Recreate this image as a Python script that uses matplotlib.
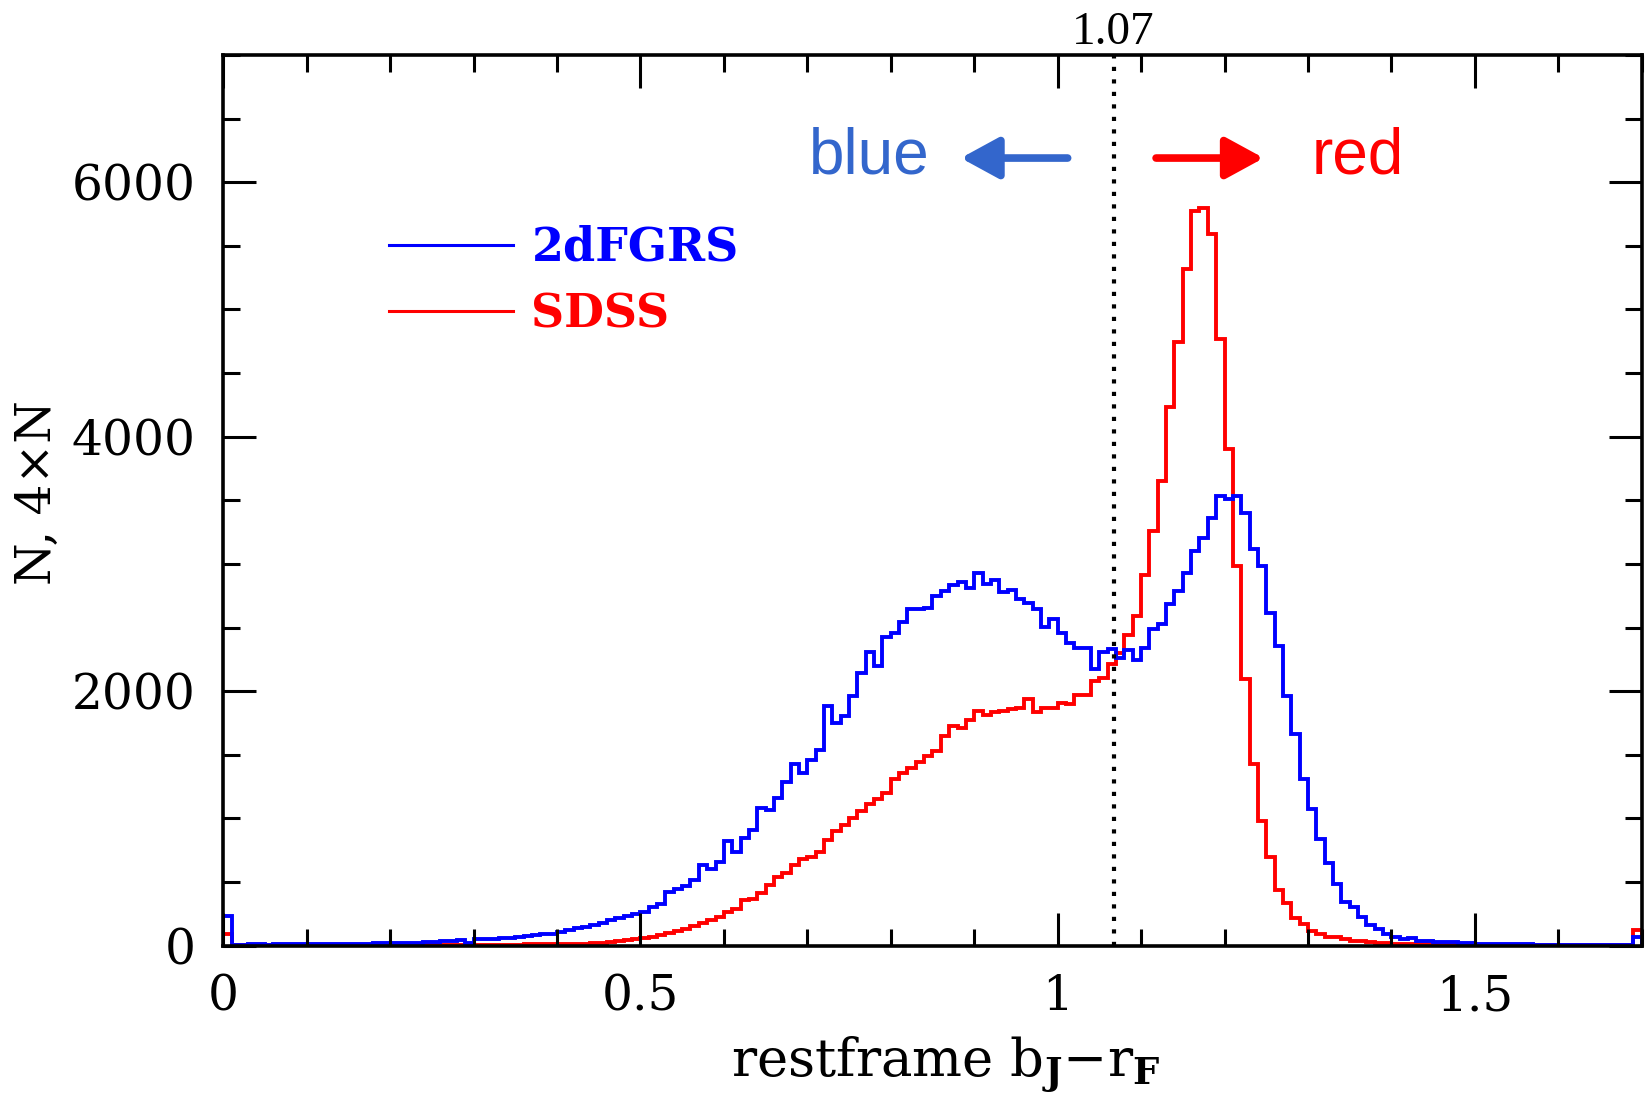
import numpy as np
import matplotlib
matplotlib.use('Agg')
import matplotlib.pyplot as plt
from matplotlib.ticker import MultipleLocator

plt.rcParams['mathtext.fontset'] = 'dejavuserif'

# histogram bins: 0.00 .. 1.70 in steps of 0.01
bin_edges = np.round(np.arange(0, 171) * 0.01, 2)

# 2dFGRS counts (4 x N), one value per bin
n_2df = [237, 8, 9, 10, 10, 9, 10, 11, 10, 10,
         11, 12, 12, 14, 15, 15, 16, 17, 18, 18,
         19, 20, 21, 24, 27, 32, 36, 40, 48, 24,
         52, 54, 56, 60, 64, 72, 76, 82, 88, 95,
         108, 122, 135, 148, 165, 180, 204, 219, 237, 252,
         268, 305, 327, 425, 444, 465, 517, 635, 604, 661,
         819, 740, 845, 911, 1081, 1063, 1160, 1283, 1428, 1357,
         1457, 1541, 1882, 1751, 1803, 1961, 2144, 2307, 2197, 2428,
         2459, 2543, 2648, 2648, 2652, 2748, 2787, 2837, 2861, 2814,
         2927, 2840, 2874, 2780, 2795, 2722, 2696, 2643, 2507, 2564,
         2454, 2381, 2341, 2336, 2176, 2307, 2328, 2263, 2323, 2242,
         2342, 2486, 2525, 2683, 2788, 2932, 3102, 3200, 3358, 3531,
         3510, 3535, 3397, 3116, 2984, 2617, 2354, 1960, 1663, 1311,
         1074, 837, 653, 482, 347, 303, 229, 166, 132, 92,
         71, 53, 60, 38, 34, 32, 27, 25, 20, 18,
         17, 16, 14, 13, 12, 11, 10, 9, 9, 8,
         8, 7, 7, 6, 6, 6, 5, 5, 5, 70]

# SDSS counts (N)
n_sdss = [95, 2, 2, 2, 2, 3, 3, 3, 3, 3,
          3, 3, 3, 4, 4, 4, 4, 4, 4, 5,
          5, 5, 5, 5, 6, 6, 6, 6, 7, 7,
          7, 8, 8, 9, 9, 9, 10, 10, 11, 11,
          12, 12, 14, 17, 20, 24, 30, 37, 44, 52,
          63, 71, 84, 97, 115, 131, 155, 176, 202, 228,
          268, 286, 360, 368, 412, 478, 543, 570, 635, 680,
          700, 740, 830, 898, 950, 1005, 1060, 1110, 1150, 1200,
          1310, 1355, 1400, 1440, 1490, 1530, 1650, 1730, 1710, 1770,
          1845, 1810, 1840, 1845, 1860, 1865, 1940, 1835, 1865, 1870,
          1905, 1900, 1970, 1970, 2080, 2105, 2210, 2302, 2439, 2591,
          2911, 3260, 3654, 4231, 4748, 5320, 5772, 5801, 5596, 4764,
          3903, 2984, 2092, 1426, 979, 697, 439, 337, 216, 171,
          118, 92, 71, 65, 53, 40, 38, 26, 24, 18,
          16, 14, 12, 11, 10, 9, 8, 7, 7, 6,
          6, 5, 5, 4, 4, 4, 4, 3, 3, 3,
          3, 3, 3, 2, 2, 2, 2, 2, 2, 120]

cut = 1.067
cut_label = '1.07'

fig = plt.figure(figsize=(16.45, 10.93), dpi=100)
ax = fig.add_axes([0.1357, 0.1348, 0.8623, 0.8149])

ax.stairs(n_sdss, bin_edges, color='#ff0000', lw=2.8, label='SDSS')
ax.stairs(n_2df, bin_edges, color='#0000ff', lw=2.8, label='2dFGRS')
ax.axvline(cut, color='black', lw=3.0, linestyle=(0, (1, 2.0)))

ax.set_xlim(0, 1.7)
ax.set_ylim(0, 7000)
ax.xaxis.set_major_locator(MultipleLocator(0.5))
ax.xaxis.set_minor_locator(MultipleLocator(0.1))
ax.yaxis.set_major_locator(MultipleLocator(2000))
ax.yaxis.set_minor_locator(MultipleLocator(500))
ax.xaxis.set_major_formatter(plt.FuncFormatter(lambda v, p: '%g' % v))
ax.tick_params(which='both', direction='in', top=True, right=True, width=2.2)
ax.tick_params(which='major', length=24, pad=20, labelsize=35)
ax.tick_params(which='minor', length=12)
for lab in ax.get_xticklabels() + ax.get_yticklabels():
    lab.set_family('DejaVu Serif')
for sp in ax.spines.values():
    sp.set_linewidth(2.6)

# legend
handles, labels = ax.get_legend_handles_labels()
leg = ax.legend(handles[::-1], labels[::-1], loc='upper left', bbox_to_anchor=(0.101, 0.835),
                frameon=False, borderpad=0, handlelength=2.7, handletextpad=0.4,
                labelspacing=0.45, prop={'family': 'DejaVu Serif', 'weight': 'bold', 'size': 33})
for txt, c in zip(leg.get_texts(), ['#0000ff', '#ff0000']):
    txt.set_color(c)
for ln in leg.get_lines():
    ln.set_linewidth(2.2)

# blue / red annotations
arrow_style = '-|>,head_length=0.55,head_width=0.3'
ax.annotate('', xy=(0.884, 6190), xytext=(1.012, 6190),
            arrowprops=dict(arrowstyle=arrow_style, color='#3366cc', lw=5.5,
                            mutation_scale=42, shrinkA=0, shrinkB=0))
ax.annotate('', xy=(1.247, 6190), xytext=(1.118, 6190),
            arrowprops=dict(arrowstyle=arrow_style, color='#ff0000', lw=5.5,
                            mutation_scale=42, shrinkA=0, shrinkB=0))
ax.text(0.774, 6070, 'blue', color='#3366cc', fontsize=46, family='Liberation Sans',
        ha='center', va='baseline')
ax.text(1.36, 6070, 'red', color='#ff0000', fontsize=46, family='Liberation Sans',
        ha='center', va='baseline')
ax.text(cut, 1.012, cut_label, transform=ax.get_xaxis_transform(), fontsize=34,
        family='Liberation Serif', ha='center', va='baseline')

fig.text(0.0225, 0.549, 'N, 4\u00d7N', rotation=90, fontsize=35, family='DejaVu Serif',
         ha='center', va='center')
fig.text(0.575, 0.0145, r'restframe b$_{\mathbf{J}}$$-$r$_{\mathbf{F}}$', fontsize=38,
         family='DejaVu Serif', ha='center', va='baseline')

plt.savefig('out.png')
